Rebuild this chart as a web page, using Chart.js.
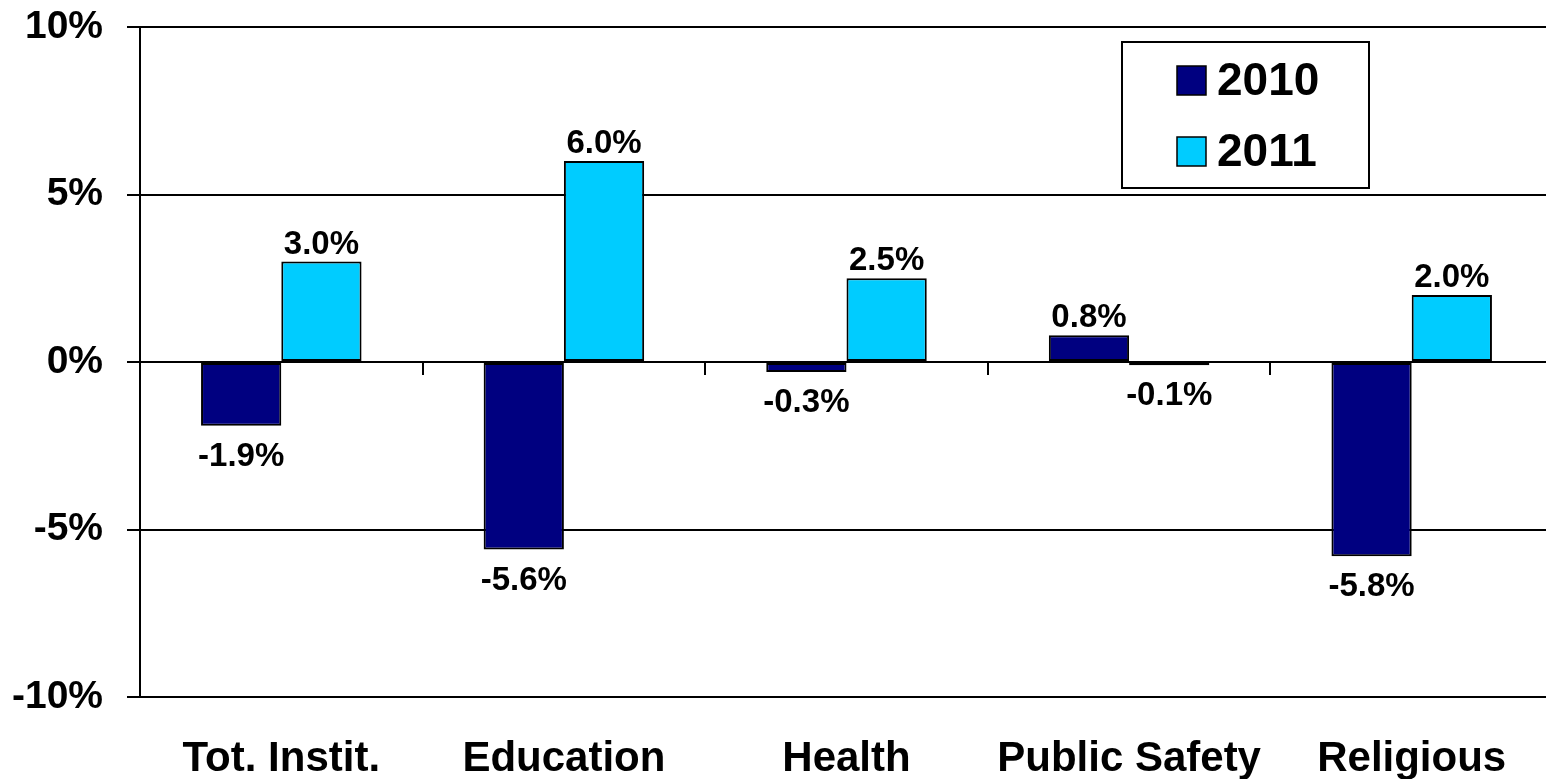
<!DOCTYPE html>
<html>
<head>
<meta charset="utf-8">
<script src="https://cdn.jsdelivr.net/npm/chart.js@4/dist/chart.umd.min.js"></script>
<style>
  html, body { margin: 0; padding: 0; overflow: hidden; background: #ffffff; }
  #wrap { position: absolute; left: 0; top: 0; }
</style>
</head>
<body>
<div id="wrap"><canvas id="c" width="1553" height="779"></canvas></div>
<script>
// Year-over-year change by sector (percent)
const categories = ['Tot. Instit.', 'Education', 'Health', 'Public Safety', 'Religious'];
const seriesNames = ['2010', '2011'];
const values2010 = [-1.9, -5.6, -0.3, 0.8, -5.8];
const values2011 = [3.0, 6.0, 2.5, -0.1, 2.0];
const yTicks = [-10, -5, 0, 5, 10];

const FONT = '"Liberation Sans", Arial, Helvetica, sans-serif';
const NAVY = '#000080';
const CYAN = '#00CCFF';

// Value labels placed just outside the end of each bar
const valueLabels = {
  id: 'valueLabels',
  afterDatasetsDraw(chart) {
    const ctx = chart.ctx;
    ctx.save();
    ctx.font = 'bold 33px ' + FONT;
    ctx.fillStyle = '#000';
    ctx.textAlign = 'center';
    ctx.textBaseline = 'alphabetic';
    chart.data.datasets.forEach((ds, di) => {
      const meta = chart.getDatasetMeta(di);
      meta.data.forEach((bar, i) => {
        const v = ds.data[i];
        const txt = v.toFixed(1) + '%';
        const top = Math.min(bar.y, bar.base);
        const bottom = Math.max(bar.y, bar.base);
        const y = v >= 0 ? top - 8 : bottom + 40;
        ctx.fillText(txt, bar.x, y);
      });
    });
    ctx.restore();
  }
};

// Category separators hanging below the zero line
const zeroTicks = {
  id: 'zeroTicks',
  afterDatasetsDraw(chart) {
    const x = chart.scales.x, y = chart.scales.y;
    const y0 = y.getPixelForValue(0);
    const ctx = chart.ctx;
    ctx.save();
    ctx.strokeStyle = '#000';
    ctx.lineWidth = 2;
    for (let i = 0; i < categories.length - 1; i++) {
      const px = Math.round((x.getPixelForValue(i) + x.getPixelForValue(i + 1)) / 2);
      ctx.beginPath();
      ctx.moveTo(px, y0);
      ctx.lineTo(px, y0 + 13);
      ctx.stroke();
    }
    ctx.restore();
  }
};

// Boxed legend in the upper right of the plot
const boxLegend = {
  id: 'boxLegend',
  afterDraw(chart) {
    const ctx = chart.ctx;
    const bx = 1122, by = 42, bw = 247, bh = 146;
    ctx.save();
    ctx.fillStyle = '#fff';
    ctx.fillRect(bx, by, bw, bh);
    ctx.strokeStyle = '#000';
    ctx.lineWidth = 2;
    ctx.strokeRect(bx, by, bw, bh);
    ctx.font = 'bold 46px ' + FONT;
    ctx.textAlign = 'left';
    ctx.textBaseline = 'middle';
    chart.data.datasets.forEach((ds, i) => {
      const cy = 80 + i * 71;
      ctx.fillStyle = ds.backgroundColor;
      ctx.fillRect(1177, cy - 14, 29, 29);
      ctx.lineWidth = 1.5;
      ctx.strokeRect(1177, cy - 14, 29, 29);
      ctx.fillStyle = '#000';
      ctx.fillText(ds.label, 1217, cy + 2);
    });
    ctx.restore();
  }
};

new Chart(document.getElementById('c'), {
  type: 'bar',
  data: {
    labels: categories,
    datasets: [
      { label: seriesNames[0], data: values2010, backgroundColor: NAVY, borderColor: '#000', borderWidth: 2, borderSkipped: false },
      { label: seriesNames[1], data: values2011, backgroundColor: CYAN, borderColor: '#000', borderWidth: 2, borderSkipped: false }
    ]
  },
  options: {
    responsive: false,
    animation: false,
    devicePixelRatio: 1,
    layout: { padding: { top: 27, right: 0, left: 0, bottom: 0 } },
    datasets: { bar: { categoryPercentage: 0.568, barPercentage: 1.0 } },
    plugins: { legend: { display: false }, tooltip: { enabled: false } },
    scales: {
      x: {
        offset: true,
        grid: { display: false },
        border: { display: false },
        ticks: { color: '#000', padding: 29, font: { family: FONT, size: 42, weight: 'bold' }, maxRotation: 0 },
        afterFit(scale) { scale.height = 82; scale.paddingLeft = 0; scale.paddingRight = 0; }
      },
      y: {
        min: -10, max: 10,
        afterBuildTicks(scale) { scale.ticks = yTicks.map(v => ({ value: v })); },
        grid: { color: '#000', lineWidth: 2, tickLength: 13, drawTicks: true },
        border: { display: true, color: '#000', width: 2 },
        ticks: { color: '#000', padding: 24, font: { family: FONT, size: 39, weight: 'bold' }, callback: v => v + '%' },
        afterFit(scale) { scale.width = 140; scale.paddingTop = 0; scale.paddingBottom = 0; }
      }
    }
  },
  plugins: [valueLabels, zeroTicks, boxLegend]
});
</script>
</body>
</html>
